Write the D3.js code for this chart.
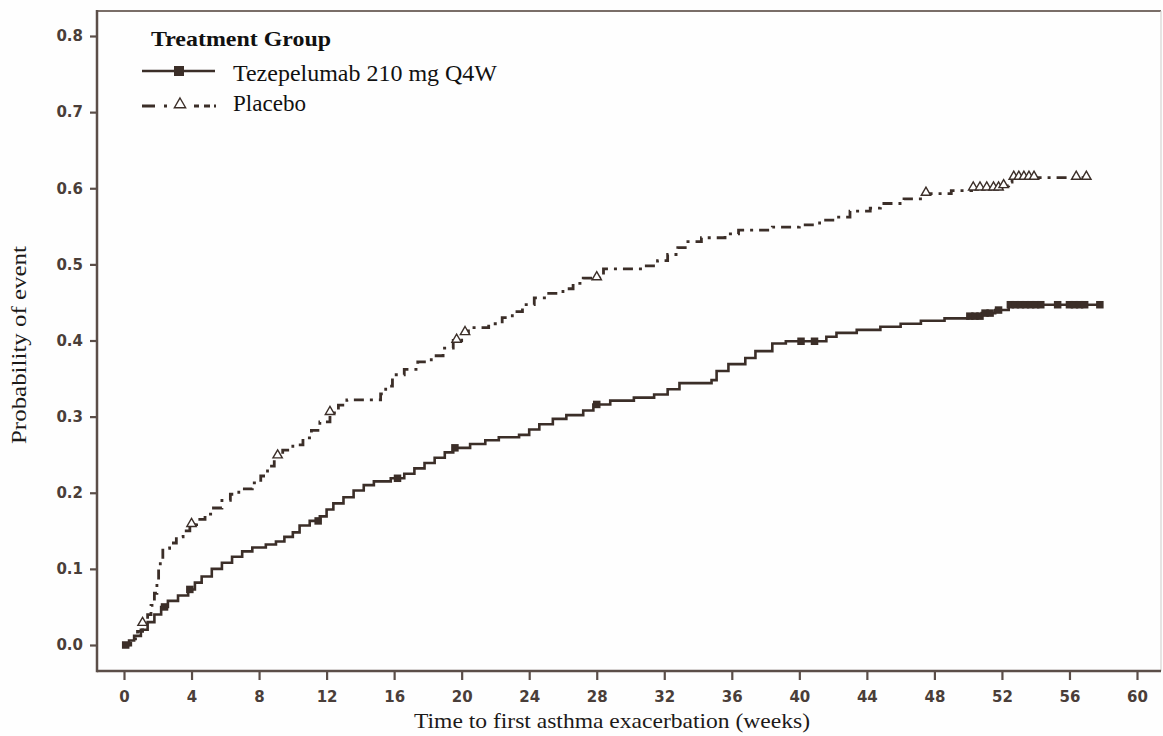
<!DOCTYPE html>
<html>
<head>
<meta charset="utf-8">
<script src="https://cdn.jsdelivr.net/npm/d3@7/dist/d3.min.js"></script>
<style>
  html, body { margin: 0; padding: 0; background: #fefefe; }
  svg { display: block; }
</style>
</head>
<body>
<svg id="chart" width="1163" height="736"></svg>
<script>
// ---------- DATA ----------
const xTicks = [0, 4, 8, 12, 16, 20, 24, 28, 32, 36, 40, 44, 48, 52, 56, 60];
const yTicks = [0.0, 0.1, 0.2, 0.3, 0.4, 0.5, 0.6, 0.7, 0.8];

const seriesNames = ["Tezepelumab 210 mg Q4W", "Placebo"];

// Tezepelumab: step times (weeks) and cumulative probability of event
const tezeTime = [0, 0.3, 0.6, 1.0, 1.4, 1.8, 2.2, 2.6, 3.2, 3.8, 4.2, 4.6, 5.2, 5.8, 6.4, 7.0, 7.6, 8.4, 9.0, 9.5,
  10.0, 10.4, 11.0, 11.6, 12.0, 12.4, 13.0, 13.6, 14.2, 14.8, 15.8, 16.6, 17.2, 17.8, 18.4, 19.0, 19.5, 20.5, 21.4, 22.2,
  23.4, 24.0, 24.6, 25.4, 26.2, 27.2, 27.8, 28.8, 30.2, 31.4, 32.2, 32.9, 34.8, 35.1, 35.8, 36.8, 37.4, 38.4, 39.2, 41.6,
  42.2, 43.4, 44.8, 46.0, 47.2, 48.6, 50.0, 50.8, 51.6, 52.4];
const tezeProb = [0, 0.006, 0.012, 0.02, 0.03, 0.04, 0.05, 0.058, 0.065, 0.073, 0.082, 0.09, 0.10, 0.108, 0.116, 0.123, 0.128, 0.132, 0.136, 0.142,
  0.148, 0.157, 0.163, 0.169, 0.178, 0.186, 0.194, 0.203, 0.210, 0.215, 0.219, 0.225, 0.232, 0.239, 0.246, 0.253, 0.259, 0.264, 0.269, 0.273,
  0.276, 0.283, 0.290, 0.297, 0.302, 0.308, 0.316, 0.321, 0.325, 0.329, 0.336, 0.344, 0.348, 0.360, 0.369, 0.377, 0.386, 0.396, 0.399, 0.405,
  0.410, 0.414, 0.418, 0.422, 0.426, 0.429, 0.432, 0.436, 0.440, 0.447];
const tezeEnd = 57.8;
const tezeCensor = [0.1, 2.4, 3.9, 11.5, 16.2, 19.6, 28.0, 40.1, 40.9, 50.1, 50.4, 50.7, 51.0, 51.3, 51.8,
  52.5, 52.8, 53.1, 53.4, 53.7, 54.0, 54.3, 55.3, 56.0, 56.3, 56.6, 56.9, 57.8];

// Placebo
const placTime = [0, 0.4, 0.8, 1.1, 1.4, 1.6, 1.8, 1.95, 2.05, 2.15, 2.3, 2.7, 3.1, 3.5, 3.9, 4.3, 4.8, 5.3, 5.8, 6.3,
  6.8, 7.6, 8.1, 8.5, 8.9, 9.4, 10.0, 10.6, 11.1, 11.6, 12.2, 12.7, 13.2, 15.2, 15.5, 15.9, 16.6, 17.4, 18.2, 18.9,
  19.5, 20.0, 20.4, 21.6, 22.4, 23.0, 23.6, 24.3, 25.0, 26.0, 26.6, 27.2, 28.4, 30.8, 31.6, 32.2, 32.8, 33.4, 34.2, 35.6,
  36.4, 38.4, 40.0, 41.2, 42.2, 43.0, 44.2, 44.8, 46.2, 47.4, 49.0, 50.2, 52.0, 52.4, 52.6];
const placProb = [0, 0.008, 0.018, 0.028, 0.040, 0.052, 0.068, 0.085, 0.100, 0.115, 0.127, 0.134, 0.142, 0.150, 0.158, 0.165, 0.172, 0.180, 0.190, 0.198,
  0.205, 0.213, 0.222, 0.235, 0.248, 0.256, 0.263, 0.272, 0.282, 0.293, 0.305, 0.315, 0.322, 0.330, 0.340, 0.355, 0.362, 0.372, 0.380, 0.390,
  0.400, 0.410, 0.417, 0.422, 0.430, 0.438, 0.447, 0.456, 0.462, 0.468, 0.475, 0.482, 0.494, 0.498, 0.505, 0.513, 0.522, 0.530, 0.535, 0.540,
  0.545, 0.549, 0.552, 0.558, 0.562, 0.570, 0.574, 0.580, 0.586, 0.593, 0.597, 0.600, 0.603, 0.608, 0.614];
const placEnd = 57.0;
const placCensor = [1.1, 4.0, 9.1, 12.2, 19.7, 20.2, 28.0, 47.5, 50.3, 50.7, 51.1, 51.5, 51.8, 52.1,
  52.7, 53.0, 53.3, 53.6, 53.9, 56.4, 57.0];

// ---------- LAYOUT ----------
const svg = d3.select("#chart");
const frame = { left: 97, top: 11, right: 1161, bottom: 671 };
const x = d3.scaleLinear().domain([0, 60]).range([124, 1137]);
const y = d3.scaleLinear().domain([0, 0.8]).range([645, 36]);

const axisColor = "#5b4e48";
const labelColor = "#4a3e39";
const curveColor = "#3b2e28";
const serif = "'Liberation Serif', 'Times New Roman', serif";
const sans = "'DejaVu Sans', Verdana, sans-serif";

svg.append("rect").attr("width", 1163).attr("height", 736).attr("fill", "#fefefe");

// frame
svg.append("line").attr("x1", frame.left).attr("x2", frame.right).attr("y1", frame.top).attr("y2", frame.top)
  .attr("stroke", "#7a6e68").attr("stroke-width", 2.2);
svg.append("line").attr("x1", frame.right).attr("x2", frame.right).attr("y1", frame.top).attr("y2", frame.bottom)
  .attr("stroke", "#d6d3d1").attr("stroke-width", 1.2);

// axes
const yAxis = svg.append("g").attr("transform", `translate(${frame.left},0)`)
  .call(d3.axisLeft(y).tickValues(yTicks).tickFormat(d3.format(".1f")).tickSize(7).tickPadding(7));
const xAxis = svg.append("g").attr("transform", `translate(0,${frame.bottom})`)
  .call(d3.axisBottom(x).tickValues(xTicks).tickFormat(d3.format("d")).tickSize(9).tickPadding(11));
[yAxis, xAxis].forEach(g => {
  g.select(".domain").remove();
  g.selectAll(".tick line").attr("stroke", axisColor).attr("stroke-width", 2.2);
  g.selectAll(".tick text").attr("fill", labelColor).style("font-family", sans)
    .style("font-weight", "bold").style("font-size", "15px");
});
svg.append("line").attr("x1", frame.left).attr("x2", frame.left).attr("y1", frame.top - 1).attr("y2", frame.bottom + 1.2)
  .attr("stroke", axisColor).attr("stroke-width", 2.5);
svg.append("line").attr("x1", frame.left).attr("x2", frame.right).attr("y1", frame.bottom).attr("y2", frame.bottom)
  .attr("stroke", axisColor).attr("stroke-width", 2.5);

// axis titles
svg.append("text").attr("x", 612).attr("y", 728).attr("text-anchor", "middle")
  .attr("textLength", 396).attr("lengthAdjust", "spacingAndGlyphs")
  .style("font-family", serif).style("font-size", "21px").attr("fill", "#1c1a19")
  .text("Time to first asthma exacerbation (weeks)");
svg.append("text").attr("transform", "translate(26,345) rotate(-90)").attr("text-anchor", "middle")
  .attr("textLength", 198).attr("lengthAdjust", "spacingAndGlyphs")
  .style("font-family", serif).style("font-size", "21px").attr("fill", "#1c1a19")
  .text("Probability of event");

// ---------- CURVES ----------
function stepPoints(times, probs, end) {
  const pts = times.map((t, i) => [t, probs[i]]);
  pts.push([end, probs[probs.length - 1]]);
  return pts;
}
function probAt(times, probs, t) {
  let p = 0;
  for (let i = 0; i < times.length; i++) if (times[i] <= t) p = probs[i];
  return p;
}
const line = d3.line().x(d => x(d[0])).y(d => y(d[1])).curve(d3.curveStepAfter);

const placDash = "10,6,3,6";

svg.append("path").datum(stepPoints(placTime, placProb, placEnd))
  .attr("d", line).attr("fill", "none").attr("stroke", curveColor)
  .attr("stroke-width", 2.8).attr("stroke-dasharray", placDash);
svg.append("path").datum(stepPoints(tezeTime, tezeProb, tezeEnd))
  .attr("d", line).attr("fill", "none").attr("stroke", curveColor)
  .attr("stroke-width", 2.6);

const sq = 7.5;
svg.append("g").selectAll("rect").data(tezeCensor).join("rect")
  .attr("x", d => x(d) - sq / 2).attr("y", d => y(probAt(tezeTime, tezeProb, d)) - sq / 2)
  .attr("width", sq).attr("height", sq).attr("fill", curveColor);

const tri = d3.symbol().type(d3.symbolTriangle).size(38);
svg.append("g").selectAll("path").data(placCensor).join("path")
  .attr("transform", d => `translate(${x(d)},${y(probAt(placTime, placProb, d)) - 1})`)
  .attr("d", tri).attr("fill", "#fefefe").attr("stroke", curveColor).attr("stroke-width", 1.4);

// ---------- LEGEND ----------
const leg = svg.append("g");
leg.append("text").attr("x", 151).attr("y", 46).attr("textLength", 180).attr("lengthAdjust", "spacingAndGlyphs")
  .style("font-family", serif).style("font-weight", "bold").style("font-size", "21px").attr("fill", "#111")
  .text("Treatment Group");
// row 1
leg.append("line").attr("x1", 142).attr("x2", 215).attr("y1", 71).attr("y2", 71)
  .attr("stroke", curveColor).attr("stroke-width", 2.6);
leg.append("rect").attr("x", 179 - 5).attr("y", 71 - 5).attr("width", 10).attr("height", 10).attr("fill", curveColor);
leg.append("text").attr("x", 233).attr("y", 80.5).attr("textLength", 264).attr("lengthAdjust", "spacingAndGlyphs")
  .style("font-family", serif).style("font-size", "22.5px").attr("fill", "#111").text(seriesNames[0]);
// row 2
leg.append("line").attr("x1", 142).attr("x2", 216).attr("y1", 106).attr("y2", 106)
  .attr("stroke", curveColor).attr("stroke-width", 2.8).attr("stroke-dasharray", "13,9,3,27,5,5,6,4");
leg.append("path").attr("transform", "translate(180,104.5)").attr("d", d3.symbol().type(d3.symbolTriangle).size(55))
  .attr("fill", "#fefefe").attr("stroke", curveColor).attr("stroke-width", 1.4);
leg.append("text").attr("x", 233).attr("y", 110.5).attr("textLength", 73).attr("lengthAdjust", "spacingAndGlyphs")
  .style("font-family", serif).style("font-size", "22.5px").attr("fill", "#111").text(seriesNames[1]);
</script>
</body>
</html>
